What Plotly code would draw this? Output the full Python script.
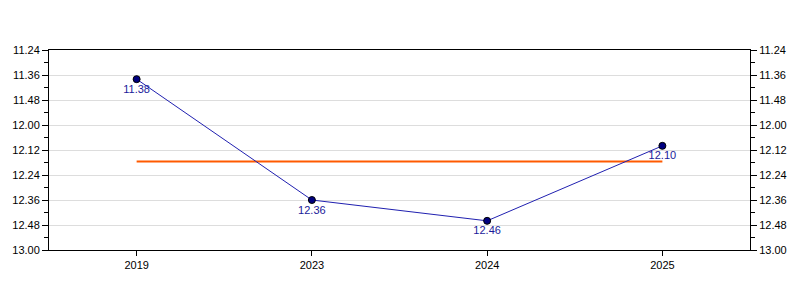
import plotly.graph_objects as go

categories = ["2019", "2023", "2024", "2025"]
value_labels = ["11.38", "12.36", "12.46", "12.10"]
tick_labels = ["11.24", "11.36", "11.48", "12.00", "12.12", "12.24", "12.36", "12.48", "13.00"]


def to_seconds(s):
    m, sec = s.split(".")
    return int(m) * 60 + int(sec)


values = [to_seconds(v) for v in value_labels]
tick_vals = [to_seconds(t) for t in tick_labels]
average = sum(values) / len(values)

font = dict(family="Liberation Sans, Arial, sans-serif", size=11, color="#000000")

fig = go.Figure()
fig.add_trace(go.Scatter(
    x=categories, y=[average] * len(categories), mode="lines",
    line=dict(color="#FF5A00", width=2), hoverinfo="skip", showlegend=False,
))
fig.add_trace(go.Scatter(
    x=categories, y=values, mode="lines+markers+text",
    text=value_labels, textposition="bottom center",
    textfont=dict(family="Liberation Sans, Arial, sans-serif", size=11, color="#1a1a9a"),
    line=dict(color="#2020B0", width=1),
    marker=dict(color="#000080", size=7, line=dict(color="#000000", width=1)),
    showlegend=False,
))
# invisible trace for right axis
fig.add_trace(go.Scatter(x=categories, y=values, yaxis="y2", mode="markers",
                         marker=dict(opacity=0), hoverinfo="skip", showlegend=False))

yrange = [tick_vals[-1], tick_vals[0]]
common_y = dict(
    range=yrange, tickmode="array", tickvals=tick_vals, ticktext=tick_labels,
    ticks="outside", ticklen=6, tickcolor="black", tickfont=font,
    showline=True, linecolor="black", linewidth=1,
    minor=dict(tickmode="array", tickvals=[v + 6 for v in tick_vals[:-1]],
               ticks="outside", ticklen=4, tickcolor="black", showgrid=False),
    zeroline=False,
)

fig.update_layout(
    width=800, height=300,
    margin=dict(l=49, r=50, t=50, b=50),
    plot_bgcolor="white", paper_bgcolor="white",
    xaxis=dict(type="category", range=[-0.5, 3.5], ticks="outside", ticklen=5,
               tickcolor="black", showline=True, linecolor="black", linewidth=1,
               mirror=True, showgrid=False, tickfont=font),
    yaxis=dict(**common_y, showgrid=True, gridcolor="#dddddd", gridwidth=1, side="left"),
    yaxis2=dict(**common_y, showgrid=False, overlaying="y", side="right"),
)

fig.write_html("out.html")
